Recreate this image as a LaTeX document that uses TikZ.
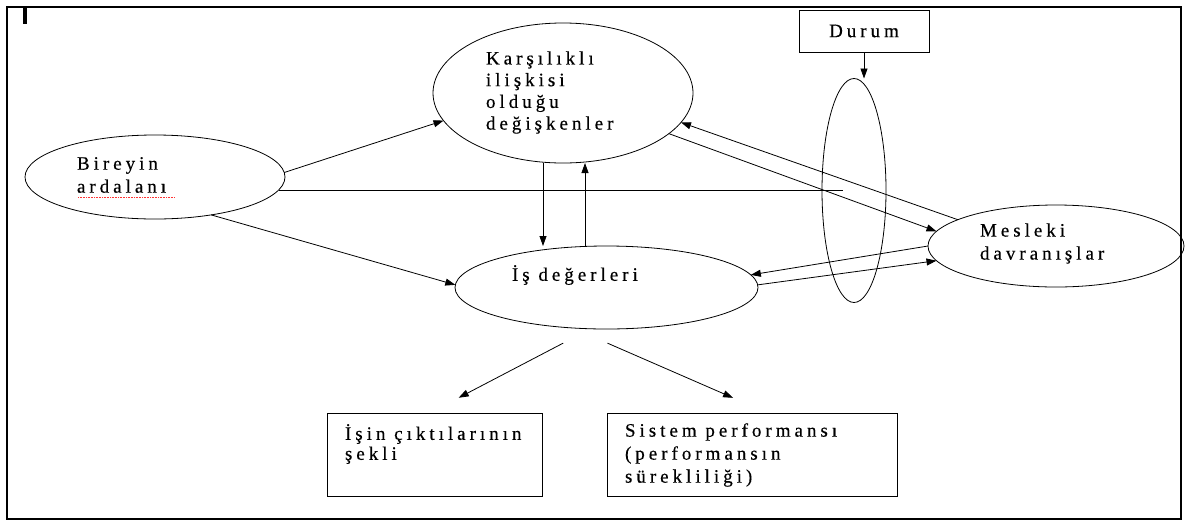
\documentclass[tikz,border=0pt]{standalone}
\usepackage{fontspec}
\newfontfamily\scanfont[LetterSpace=21,FakeBold=0.4]{Liberation Serif}
\usetikzlibrary{arrows.meta,shapes.geometric}

\begin{document}
\begin{tikzpicture}[x=1pt,y=-1pt]
        \tikzstyle{every node}=[inner sep=0pt, outer sep=0pt, text=black]
        \tikzstyle{oval}=[ellipse, draw=black, line width=0.8pt]
        \tikzstyle{kutu}=[rectangle, draw=black, line width=0.8pt]
        \tikzstyle{txt}=[anchor=west, align=left, font={\scanfont\fontsize{19}{23}\selectfont}]
        \tikzstyle{edge}=[black, line width=0.8pt, -{Triangle[length=10pt,width=7pt]}]

        \useasboundingbox (0,0) rectangle (1185,523);
        \draw[line width=1.2pt] (7,7) rectangle (1181,519);
        \draw[line width=3.5pt] (25,8) -- (25,24);

        \node[oval, minimum width=260pt, minimum height=84pt]  (bireyin)    at (155,177)   {};
        \node[oval, minimum width=260pt, minimum height=140pt] (karsilikli) at (563,93)    {};
        \node[oval, minimum width=303pt, minimum height=83pt]  (is)         at (606.5,287.5) {};
        \node[oval, minimum width=256pt, minimum height=82pt]  (mesleki)    at (1056,246)  {};
        \node[oval, minimum width=64pt,  minimum height=224pt] (dikey)      at (854,190.5) {};

        \node[kutu, minimum width=130pt, minimum height=42pt, font={\scanfont\fontsize{19}{23}\selectfont}] (durum) at (864,31) {Durum};
        \node[kutu, minimum width=215pt, minimum height=83pt] (isin)    at (434.5,454.5) {};
        \node[kutu, minimum width=290pt, minimum height=83pt] (sistem)  at (752,454.5)   {};

        \node[txt] (bireyinT)    at (77,175)   {Bireyin\\ardalanı};
        \node[txt, font={\scanfont\fontsize{19}{21.7}\selectfont}] (karsilikliT) at (486,92.5) {Karşılıklı\\ilişkisi\\olduğu\\değişkenler};
        \node[txt] (isT)         at (512,275)  {İş değerleri};
        \node[txt] (meslekiT)    at (980,243.5) {Mesleki\\davranışlar};
        \node[txt, font={\scanfont\fontsize{19}{20}\selectfont}] (isinT) at (345,444) {İşin çıktılarının\\şekli};
        \node[txt] (sistemT)     at (625,455)  {Sistem performansı\\(performansın\\sürekliliği)};

        \draw[red!80, densely dotted, line width=0.6pt] (78,197) -- (175,197);

        \draw[edge] (bireyin.2) -- (karsilikli.193);
        \draw[edge] (bireyin.-34) -- (is.179);
        \draw[edge] ([xshift=-20pt]karsilikli.south) -- ([xshift=-20pt]karsilikli.south |- is.north);
        \draw[edge] ([xshift=22pt]karsilikli.south |- is.north) -- ([xshift=22pt]karsilikli.south);
        \draw[edge] (mesleki.165) -- (karsilikli.-14);
        \draw[edge] (karsilikli.-21) -- (mesleki.173);
        \draw[edge] (mesleki.180) -- (is.5);
        \draw[edge] (is.1) -- (mesleki.187);
        \draw[edge] (durum.south) -- (durum.south |- dikey.north);
        \draw[edge, shorten <=31pt, shorten >=33pt] (is.-111) -- (isin.97);
        \draw[edge, shorten <=38pt, shorten >=38pt] (is.-130) -- (sistem.69);

        \tikzstyle{edge}=[black, line width=0.8pt]
        \coordinate (yatayson) at (843,190);
        \draw[edge] (bireyin.-6 |- yatayson) -- (yatayson);
\end{tikzpicture}
\end{document}
